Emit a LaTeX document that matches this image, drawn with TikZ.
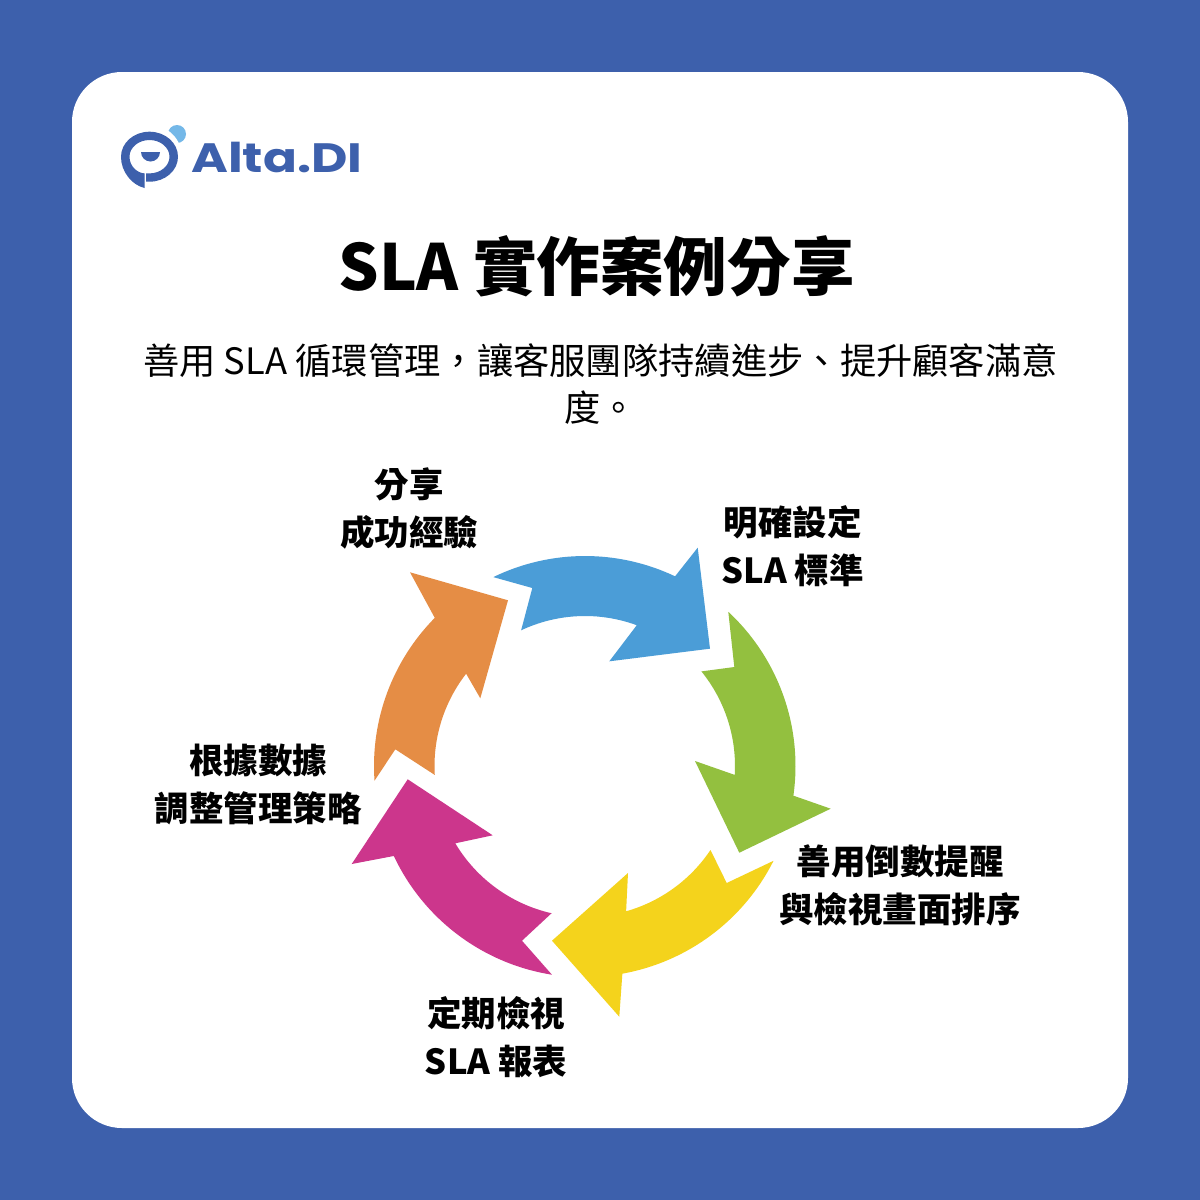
\documentclass[tikz,border=0pt]{standalone}
\usepackage{fontspec}
\setmainfont{Noto Sans CJK TC}
\newfontfamily\logofont{Poppins}
\definecolor{bgblue}{HTML}{3D60AC}
\definecolor{arrblue}{HTML}{4B9DD7}
\definecolor{arrgreen}{HTML}{93C03F}
\definecolor{arryellow}{HTML}{F4D31C}
\definecolor{arrpink}{HTML}{CC368C}
\definecolor{arrorange}{HTML}{E58D45}
\definecolor{droplight}{HTML}{74B8E8}
\tikzset{
  title/.style={font=\fontsize{63.6}{70}\selectfont\bfseries,text=black,inner sep=0pt},
  subtitle/.style={font=\fontsize{36.3}{47}\selectfont,text=black,inner sep=0pt,align=center},
  steplabel/.style={font=\fontsize{34.5}{48}\selectfont\bfseries,text=black,inner sep=0pt,align=center},
  logotext/.style={font=\logofont\fontsize{41}{45}\selectfont\bfseries,text=bgblue,inner sep=0pt,anchor=base west},
}
\newcommand{\ringarc}[3]{([shift={(585,766)}]#1:#3) arc[start angle=#1,end angle=#2,radius=#3pt]}
\begin{document}
\begin{tikzpicture}[x=1pt,y=1pt,yscale=-1]
\useasboundingbox (0,0) rectangle (1200,1200);
\fill[bgblue] (0,0) rectangle (1200,1200);
\fill[white,rounded corners=50pt] (72,72) rectangle (1128,1128);
% logo
\fill[droplight] (177,134) circle[radius=9];
\fill[white] (150,157) circle[radius=32];
\fill[bgblue] (144.5,188) .. controls (132,185) and (121,172) .. (121,156.7)
  arc[start angle=180,end angle=450,x radius=28.5pt,y radius=25pt] -- (146,181.7) -- (146,173.4) -- (149.5,173.4)
  arc[start angle=450,end angle=180,x radius=20pt,y radius=16.7pt]
  .. controls (129.5,166) and (137,173) .. (144.5,173.4) -- cycle;
\fill[bgblue] (141,152) -- (160,152) arc[start angle=0,end angle=180,radius=9.5pt] -- cycle;
\node[logotext] (logo) at (191,172) {\scalebox{1.22}[1]{Alta.DI}};
% texts
\node[title] (ttl) at (596.5,266) {SLA 實作案例分享};
\node[subtitle] (sub) at (600.5,384) {善用 SLA 循環管理，讓客服團隊持續進步、提升顧客滿意\\度。};
\node[steplabel] (l1) at (792.7,546) {明確設定\\SLA 標準};
\node[steplabel] (l2) at (900,885) {善用倒數提醒\\與檢視畫面排序};
\node[steplabel] (l3) at (496,1037) {定期檢視\\SLA 報表};
\node[steplabel] (l4) at (258,784) {根據數據\\調整管理策略};
\node[steplabel] (l5) at (409,509) {分享\\成功經驗};
% arrows
\fill[arrblue] \ringarc{-115.9}{-64.6}{210} -- (697.7,547.7) -- (710,648.7) -- (609.3,661.3) -- (636.7,625.3) -- \ringarc{-69.8}{-115.2}{150} -- (532.3,588) -- cycle;
\fill[arrgreen] \ringarc{-47.1}{8.1}{210.5} -- (830.7,808.7) -- (739.3,852.7) -- (695,761) -- \ringarc{3.4}{-39.1}{150} -- (734.3,667) -- cycle;
\fill[arryellow] \ringarc{26.7}{79.8}{211} -- (619.3,1016.7) -- (552,940.7) -- (628,873) -- \ringarc{74.2}{33.8}{151} -- (726.7,883) -- cycle;
\fill[arrpink] \ringarc{99}{154.8}{211.3} -- (351.7,864) -- (407.7,779.3) -- (492.7,835.3) -- \ringarc{149.2}{102.8}{151} -- (522,940.7) -- cycle;
\fill[arrorange] \ringarc{176}{224.6}{211} -- (410,572.3) -- (508,600.3) -- (480.3,698.3) -- (466.3,674) -- \ringarc{217.8}{176.6}{150.5} -- (395.3,749.3) -- cycle;
\end{tikzpicture}
\end{document}
